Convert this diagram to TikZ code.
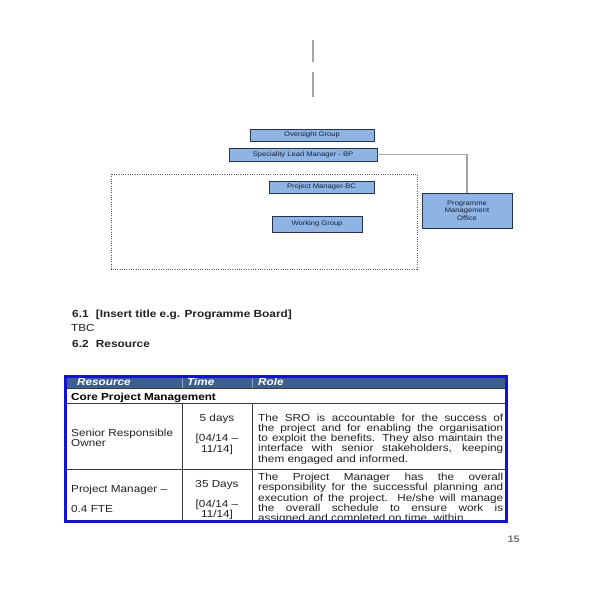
\documentclass[tikz,border=0pt]{standalone}
\usepackage{fontspec}
\newfontfamily\af[FakeStretch=1.15]{Liberation Sans}
\definecolor{boxfill}{HTML}{8DB4E3}
\definecolor{boxline}{HTML}{26324D}
\definecolor{boxtext}{HTML}{16203A}
\definecolor{conngray}{HTML}{A3A3A3}
\definecolor{dotgray}{HTML}{5A5A5A}
\definecolor{tblblue}{HTML}{1212CF}
\definecolor{hdrfill}{HTML}{3D5F8F}
\definecolor{gridc}{HTML}{3A3A3A}
\definecolor{hdrsep}{HTML}{8FA3C2}
\definecolor{bodytext}{HTML}{222222}
\begin{document}
\begin{tikzpicture}[x=1pt,y=-1pt,
  orgbox/.style={draw=boxline, fill=boxfill, line width=0.9pt, inner sep=0pt,
    font=\af\fontsize{6.6}{7.4}\selectfont, text=boxtext, align=center},
  conn/.style={draw=conngray, line width=1.5pt},
  dotbox/.style={draw=dotgray, line width=0.8pt, dash pattern=on 1pt off 1.3pt},
  body/.style={inner sep=0pt, text=bodytext, font=\af\fontsize{10.2}{10.25}\selectfont},
  hdr/.style={inner sep=0pt, text=white, font=\af\fontsize{10.2}{10.25}\selectfont\bfseries\itshape, anchor=base west},
  heading/.style={inner sep=0pt, text=bodytext, font=\af\fontsize{10.3}{12}\selectfont\bfseries, anchor=base west},
  gridline/.style={draw=gridc, line width=0.8pt}]
\useasboundingbox (0,0) rectangle (592,592);
\fill[white] (0,0) rectangle (592,592);

% top vertical strokes
\coordinate (v1a) at (313,40);
\coordinate (v1b) at (313,62);
\coordinate (v2a) at (313,72);
\coordinate (v2b) at (313,97);
\draw[conn] (v1a) -- (v1b);
\draw[conn] (v2a) -- (v2b);

% dotted frame
\draw[dotbox] (111,174) rectangle (417,269);

% org boxes
\node[orgbox, minimum width=124pt, minimum height=12pt] (og) at (312,135) {Oversight Group};
\node[orgbox, minimum width=148pt, minimum height=13pt] (slm) at (303,154.5) {Speciality Lead Manager - BP};
\node[orgbox, minimum width=105pt, minimum height=12pt] (pmbc) at (321.5,187) {Project Manager-BC};
\node[orgbox, minimum width=90pt, minimum height=16pt] (wg) at (317,224) {Working Group};
\node[orgbox, minimum width=90pt, minimum height=35pt] (pmo) at (467,210.5) {Programme\\Management\\Office};
\draw[conn] (slm.east) -| (pmo.north);

% headings
\node[heading] (h61) at (72,317) {\makebox[23.7pt][l]{6.1}[Insert title e.g. Programme Board]};
\node[body, anchor=base west] (tbc) at (71,331) {TBC};
\node[heading] (h62) at (72,347.5) {\makebox[23.7pt][l]{6.2}Resource};

% table
\fill[hdrfill] (65.5,376.5) rectangle (506,388);
\draw[hdrsep, line width=0.7pt] (182,377) -- (182,388);
\draw[hdrsep, line width=0.7pt] (252.5,377) -- (252.5,388);
\draw[gridline] (65.5,388) -- (506,388);
\draw[gridline] (65.5,403) -- (506,403);
\draw[gridline] (65.5,469.5) -- (506,469.5);
\draw[gridline] (182,403) -- (182,521);
\draw[gridline] (252.5,403) -- (252.5,521);

\node[hdr] (hres) at (77,385.5) {Resource};
\node[hdr] (htime) at (187,385.5) {Time};
\node[hdr] (hrole) at (258,385.5) {Role};
\node[body, anchor=base west, font=\af\fontsize{10.2}{10.25}\selectfont\bfseries, text=black] (core) at (71,400.5) {Core Project Management};

\begin{scope}
\clip (65.5,376.5) rectangle (506,521.5);
\node[body, anchor=base west, text width=108pt, align=left, font=\af\fontsize{10.2}{9}\selectfont] (sro) at (71,436.5) {Senior Responsible\\Owner};
\node[body, anchor=base] (d5) at (217,421.5) {5 days};
\node[body, anchor=base, text width=60pt, align=center, font=\af\fontsize{10.2}{8.3}\selectfont] (t1) at (217,441.5) {[04/14 –\\11/14]};
\node[body, anchor=base west, text width=245pt, align=justify] (role1) at (258,421) {The SRO is accountable for the success of\linebreak the project and for enabling the organisation\linebreak to exploit the benefits. They also maintain the\linebreak interface with senior stakeholders, keeping\linebreak them engaged and informed.};

\node[body, anchor=base west] (pm) at (71,492.5) {Project Manager –};
\node[body, anchor=base west] (fte) at (71,512) {0.4 FTE};
\node[body, anchor=base] (d35) at (217,487.5) {35 Days};
\node[body, anchor=base, text width=60pt, align=center, font=\af\fontsize{10.2}{8.3}\selectfont] (t2) at (217,507) {[04/14 –\\11/14]};
\node[body, anchor=base west, text width=245pt, align=justify] (role2) at (258,480.5) {\parfillskip=0pt The Project Manager has the overall\linebreak responsibility for the successful planning and\linebreak execution of the project. He/she will manage\linebreak the overall schedule to ensure work is\linebreak assigned and completed on time, within};
\end{scope}

\draw[tblblue, line width=3pt] (65.5,376.5) rectangle (506,521.5);

% page number
\node[body, anchor=base east, font=\af\fontsize{9.5}{9.5}\selectfont\bfseries, text=gray!90!black] (pg) at (520,542.5) {15};
\end{tikzpicture}
\end{document}
